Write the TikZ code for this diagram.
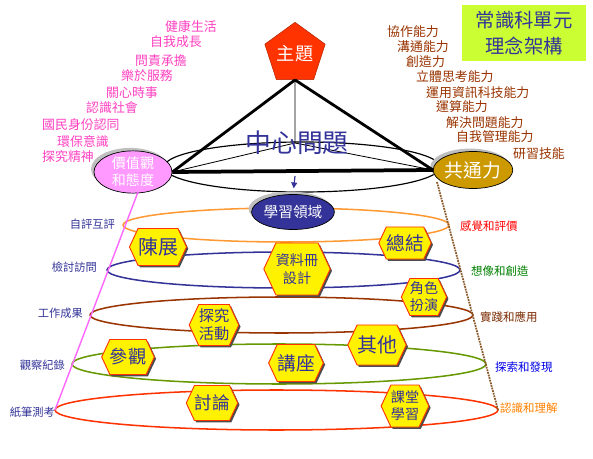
\documentclass[tikz,border=0pt]{standalone}
\usepackage{fontspec}
\setmainfont{Noto Sans CJK TC}
\usetikzlibrary{shapes.geometric,shapes.symbols,shadows,arrows.meta}

\definecolor{navytxt}{HTML}{333399}
\definecolor{pinktxt}{HTML}{FF40C0}
\definecolor{browntxt}{HTML}{993300}
\definecolor{topicred}{HTML}{FF3300}
\definecolor{valuepink}{HTML}{FF99FF}
\definecolor{skillgold}{HTML}{CC9900}
\definecolor{titlegreen}{HTML}{CCFF33}
\definecolor{ringorange}{HTML}{FF9933}
\definecolor{ringnavy}{HTML}{333399}
\definecolor{ringbrown}{HTML}{993300}
\definecolor{ringolive}{HTML}{669900}
\definecolor{ringred}{HTML}{FF3300}
\definecolor{conepink}{HTML}{FF66FF}
\definecolor{conebrown}{HTML}{8B5A2B}

\newcommand{\fsz}[2]{\fontsize{#1}{#2}\selectfont}

\begin{document}
\begin{tikzpicture}[x=0.03cm, y=-0.03cm]

        % Styles kept local to the picture
        \tikzset{
            hexa/.style={signal, signal to=east and west, signal pointer angle=130,
                draw=topicred, line width=0.8pt, fill=yellow, text=navytxt,
                inner sep=0pt, align=center,
                drop shadow={shadow xshift=1.5pt, shadow yshift=-1.5pt, fill=black!70, opacity=1}},
            bubble/.style={ellipse, draw=black, line width=0.6pt, text=white, inner sep=0pt, align=center,
                drop shadow={shadow xshift=-2.5pt, shadow yshift=2.5pt, fill=black!25, opacity=1}},
            ring/.style={line width=1.3pt},
            vallabel/.style={text=pinktxt, font=\fsz{11}{13}, anchor=west, inner sep=0pt},
            skilllabel/.style={text=browntxt, font=\fsz{11}{13}, anchor=west, inner sep=0pt},
            assesslabel/.style={text=navytxt, font=\fsz{9.6}{11}, anchor=east, inner sep=0pt},
            levellabel/.style={font=\fsz{9.8}{11}, anchor=west, inner sep=0pt}
        }

        \useasboundingbox (0,0) rectangle (593,459);

        % --- Cone rings (back to front) ---
        \draw[ring, ringorange] (286,225) ellipse [x radius=163, y radius=17];
        \draw[ring, ringnavy] (283.5,270) ellipse [x radius=176.5, y radius=18];
        \draw[ring, ringbrown] (281.5,315) ellipse [x radius=191.5, y radius=18];
        \draw[ring, ringolive] (279,364) ellipse [x radius=207, y radius=20];
        \draw[ring, ringred] (276.5,410) ellipse [x radius=221.5, y radius=20];

        % ring ends on the cone sides
        \coordinate (conetopL) at (138,192);
        \coordinate (conetopR) at (437,182);
        \coordinate (conebotL) at (55,410);
        \coordinate (conebotR) at (498,410);

        % --- Ellipse round the triangle base ---
        \draw[line width=1pt] (302,167) ellipse [x radius=138, y radius=25];

        % --- Top-level nodes ---
        \node[regular polygon, regular polygon sides=5, minimum size=1.74cm, inner sep=0pt,
              fill=topicred, draw=topicred!70!black, text=white, font=\fsz{15.5}{18}] (zhuti) at (295,54) {主題};
        \node[bubble, fill=valuepink, minimum width=2.34cm, minimum height=1.26cm, font=\fsz{12}{14.5}] (jiazhi) at (133,172) {價值觀\\和態度};
        \node[bubble, fill=skillgold, minimum width=2.34cm, minimum height=1.11cm, font=\fsz{16}{18}] (gongtong) at (473,170) {共通力};
        \node[bubble, fill=navytxt, minimum width=2.31cm, minimum height=1.05cm, font=\fsz{12.5}{15}] (xuexi) at (293,212) {學習領域};
        \coordinate (ctr) at (295,143);
        \coordinate (arrowtop) at (295,176);

        % --- Triangle and its thin spokes ---
        \draw[line width=0.7pt] (zhuti.south) -- (ctr);
        \draw[line width=0.7pt] (jiazhi.east) -- (ctr);
        \draw[line width=0.7pt] (gongtong.west) -- (ctr);
        \draw[line width=2.4pt, line join=round] (zhuti.south) -- (jiazhi.east);
        \draw[line width=2.4pt, line join=round] (zhuti.south) -- (gongtong.west);
        \draw[line width=3.2pt] (jiazhi.east) -- (gongtong.west);
        \node[text=navytxt, font=\fsz{22}{24}] (zhongxin) at (297,143) {中心問題};
        \draw[-{Triangle[width=5pt,length=5pt]}, navytxt, line width=1pt, shorten >=5pt] (arrowtop) -- (xuexi.north);

        % --- Cone sides ---
        \draw[conepink, line width=1.2pt] (conetopL) -- (conebotL);
        \draw[conebrown, line width=1.5pt, dash pattern=on 1.5pt off 0.8pt] (conetopR) -- (conebotR);

        % --- Learning activities ---
        \node[hexa, minimum width=1.5cm, minimum height=1.11cm, font=\fsz{17}{19}] (chenzhan) at (158,247) {陳展};
        \node[hexa, minimum width=1.5cm, minimum height=1.56cm, font=\fsz{12}{15}] (ziliao) at (297,269) {資料冊\\設計};
        \node[hexa, minimum width=1.35cm, minimum height=0.96cm, font=\fsz{16}{18}] (zongjie) at (405,243) {總結};
        \node[hexa, minimum width=1.17cm, minimum height=1.11cm, font=\fsz{12}{14.5}] (juese) at (424,297) {角色\\扮演};
        \node[hexa, minimum width=1.35cm, minimum height=1.23cm, font=\fsz{13}{15.5}] (tanjiu) at (214,325) {探究\\活動};
        \node[hexa, minimum width=1.5cm, minimum height=1.05cm, font=\fsz{15.5}{18}] (canguan) at (128,357) {參觀};
        \node[hexa, minimum width=1.47cm, minimum height=1.11cm, font=\fsz{16}{18}] (jiangzuo) at (296,363) {講座};
        \node[hexa, minimum width=1.29cm, minimum height=1.2cm, font=\fsz{17}{19}] (qita) at (377,345) {其他};
        \node[hexa, minimum width=1.2cm, minimum height=1.05cm, font=\fsz{15}{17}] (taolun) at (212,403) {討論};
        \node[hexa, minimum width=1.35cm, minimum height=1.26cm, font=\fsz{12}{14.5}] (ketang) at (405,406) {課堂\\學習};

        % --- Values and attitudes ---
        \foreach \t/\x/\y [count=\i] in {健康生活/165/27, 自我成長/150/42, 問責承擔/135/61,
                樂於服務/121/76, 關心時事/106/93, 認識社會/86/108, 國民身份認同/42/125,
                環保意識/57/142, 探究精神/42/157}
            \node[vallabel] (val\i) at (\x,\y) {\t};

        % --- Generic skills ---
        \foreach \t/\x/\y [count=\i] in {協作能力/387/32, 溝通能力/397/47, 創造力/406/62,
                立體思考能力/416/77, 運用資訊科技能力/426/93, 運算能力/436/107,
                解決問題能力/446/123, 自我管理能力/456/137, 研習技能/513/154}
            \node[skilllabel] (skill\i) at (\x,\y) {\t};

        % --- Assessment (left) ---
        \foreach \t/\x/\y [count=\i] in {自評互評/115/224, 檢討訪問/97/267, 工作成果/83/313,
                觀察紀錄/65/365, 紙筆測考/55/412}
            \node[assesslabel] (assess\i) at (\x,\y) {\t};

        % --- Learning levels (right) ---
        \node[levellabel, text=red] (level1) at (460,226) {感覺和評價};
        \node[levellabel, text=green!50!black] (level2) at (471,271) {想像和創造};
        \node[levellabel, text=browntxt!80!black] (level3) at (480,317) {實踐和應用};
        \node[levellabel, text=blue!90!black] (level4) at (495,367) {探索和發現};
        \node[levellabel, text=orange] (level5) at (500,408) {認識和理解};

        % --- Title box ---
        \node[fill=titlegreen, minimum width=3.72cm, minimum height=1.68cm, text=navytxt,
              align=center, font=\fsz{16.5}{22}] (title) at (524,33) {常識科單元\\理念架構};

    \end{tikzpicture}
\end{document}
